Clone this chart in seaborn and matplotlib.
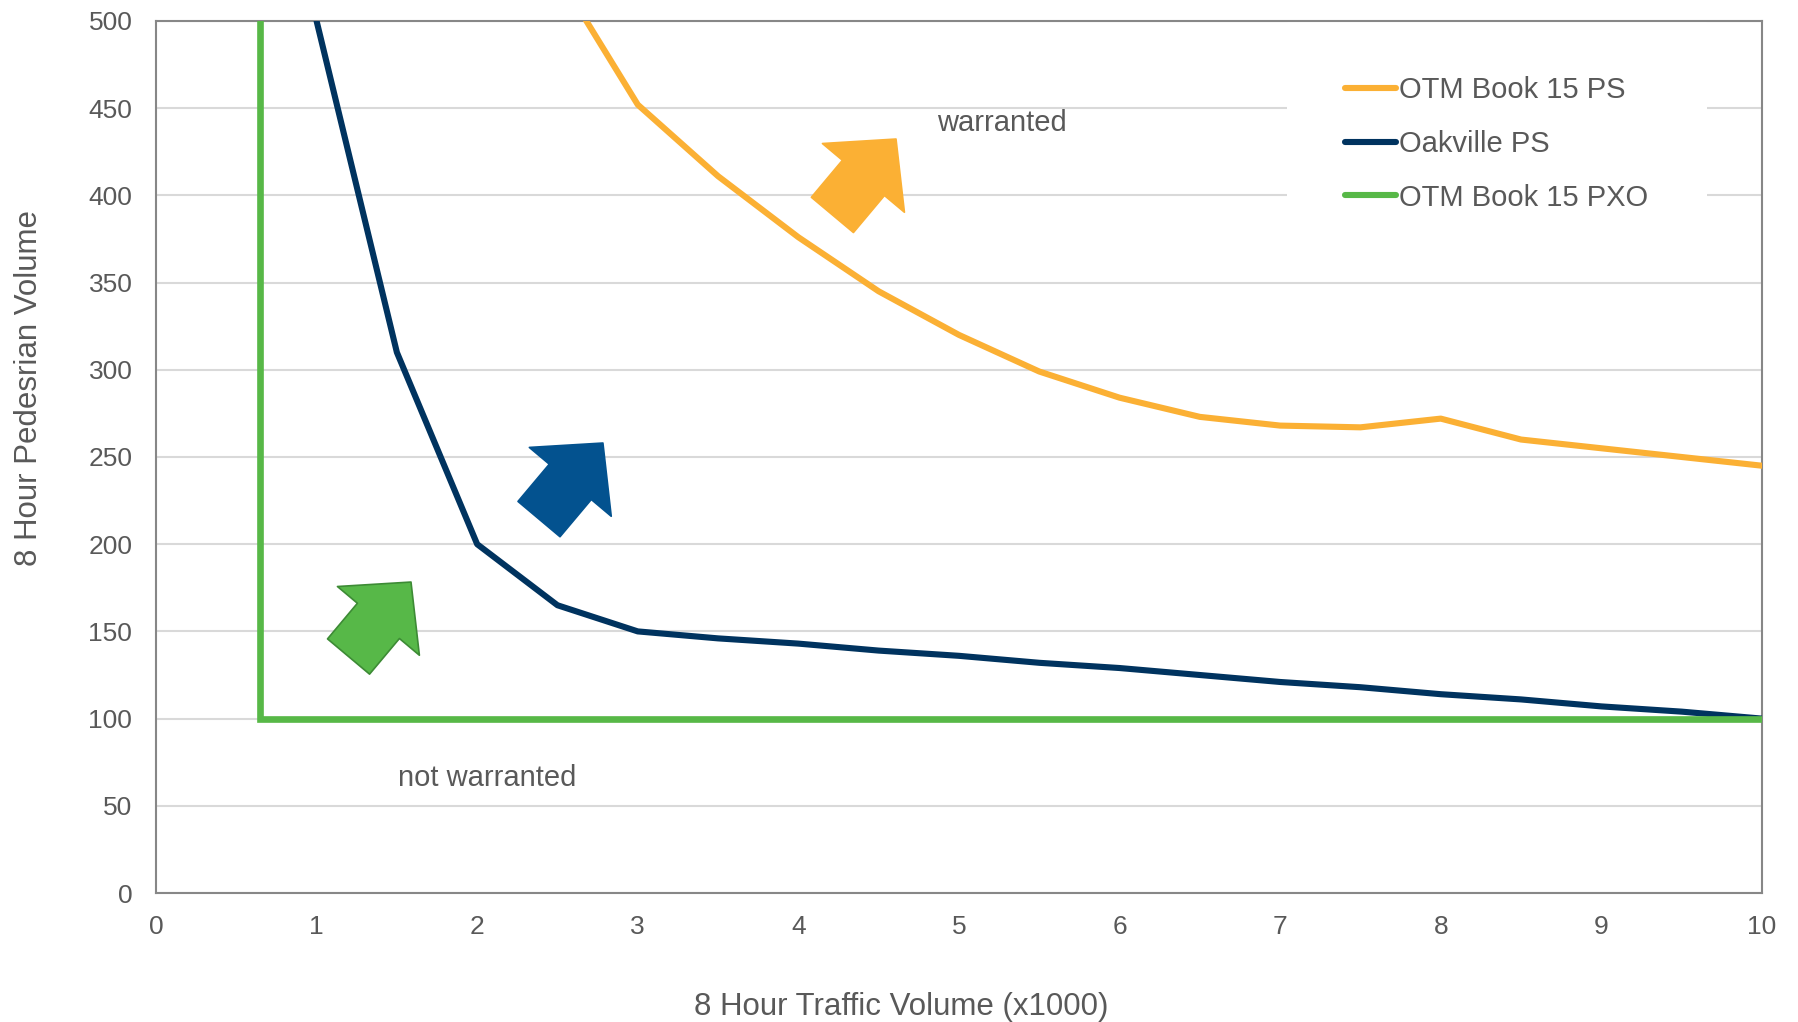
import matplotlib
matplotlib.use("Agg")
import matplotlib.pyplot as plt
import seaborn as sns
import pandas as pd
from matplotlib.patches import ArrowStyle

# ---- data ----
ps_x = [2.5, 3, 3.5, 4, 4.5, 5, 5.5, 6, 6.5, 7, 7.5, 8, 8.5, 9, 9.5, 10]
ps_y = [527, 452, 411, 376, 345, 320, 299, 284, 273, 268, 267, 272, 260, 255, 250, 245]

oak_x = [1, 1.5, 2, 2.5, 3, 3.5, 4, 4.5, 5, 5.5, 6, 6.5, 7, 7.5, 8, 8.5, 9, 9.5, 10]
oak_y = [500, 310, 200, 165, 150, 146, 143, 139, 136, 132, 129, 125, 121, 118, 114, 111, 107, 104, 100]

pxo_x = [0.645, 0.645, 10]
pxo_y = [500, 100, 100]

series_names = ["OTM Book 15 PS", "Oakville PS", "OTM Book 15 PXO"]
x_ticks = list(range(0, 11))
y_ticks = list(range(0, 501, 50))

ann_labels = ["warranted", "not warranted"]

# ---- style ----
sns.set_theme(style="white")
plt.rcParams["font.family"] = ["Liberation Sans", "DejaVu Sans"]
TXT = "#595959"
C_ORANGE = "#FBB034"
C_BLUE = "#00335F"
C_GREEN = "#57B847"

fig = plt.figure(figsize=(17.99, 10.22), dpi=100)
ax = fig.add_axes([0.0867, 0.1262, 0.9794 - 0.0867, 0.9795 - 0.1262])

df_ps = pd.DataFrame({"x": ps_x, "y": ps_y})
df_oak = pd.DataFrame({"x": oak_x, "y": oak_y})
df_pxo = pd.DataFrame({"x": pxo_x, "y": pxo_y})

sns.lineplot(data=df_ps, x="x", y="y", ax=ax, color=C_ORANGE, lw=4.4,
             label=series_names[0], estimator=None, sort=False, zorder=3)
sns.lineplot(data=df_oak, x="x", y="y", ax=ax, color=C_BLUE, lw=4.4,
             label=series_names[1], estimator=None, sort=False, zorder=3)
sns.lineplot(data=df_pxo, x="x", y="y", ax=ax, color=C_GREEN, lw=4.8,
             label=series_names[2], estimator=None, sort=False, zorder=4)
ax.lines[2].set_solid_joinstyle("miter")

ax.set_xlim(0, 10)
ax.set_ylim(0, 500)
ax.set_xticks(x_ticks)
ax.set_yticks(y_ticks)
ax.tick_params(axis="both", length=0, labelsize=19, labelcolor=TXT)
ax.tick_params(axis="y", pad=17)
ax.tick_params(axis="x", pad=16)
ax.yaxis.grid(True, color="#D9D9D9", lw=1.5)
ax.xaxis.grid(False)
ax.set_axisbelow(True)
for s in ax.spines.values():
    s.set_color("#878787")
    s.set_linewidth(1.5)

ax.set_xlabel("8 Hour Traffic Volume (x1000)", fontsize=22.5, color=TXT)
ax.set_ylabel("8 Hour Pedesrian Volume", fontsize=22.5, color=TXT)
ax.xaxis.set_label_coords(0.464, -0.113)
ax.yaxis.set_label_coords(-0.070, 0.579)

# fat arrows
style = ArrowStyle.Simple(head_length=36.5, head_width=77, tail_width=39.5)
arrows = [((2.385, 214.4), (2.783, 258.0), "#03528F", "#03528F"),
          ((4.212, 388.8), (4.608, 432.3), C_ORANGE, C_ORANGE),
          ((1.199, 135.6), (1.588, 178.3), "#57B848", "#3D8B35")]
for tail, tip, fc, ec in arrows:
    ax.annotate("", xy=tip, xytext=tail, xycoords="data", textcoords="data",
                arrowprops=dict(arrowstyle=style, fc=fc, ec=ec, lw=1.2,
                                shrinkA=0, shrinkB=0, mutation_scale=1),
                zorder=5)

ax.text(5.27, 441.5, ann_labels[0], fontsize=21, color=TXT, ha="center", va="center")
ax.text(2.064, 66, ann_labels[1], fontsize=21, color=TXT, ha="center", va="center")

leg = ax.legend(loc="center left", bbox_to_anchor=(0.704, 0.859), frameon=True,
                fontsize=21, handlelength=1.75, handletextpad=0.12,
                labelspacing=0.88, borderpad=2.0, borderaxespad=0)
leg.set_zorder(2.4)
leg.get_frame().set_facecolor("white")
leg.get_frame().set_edgecolor("none")
leg.get_frame().set_alpha(1)
for t in leg.get_texts():
    t.set_color(TXT)
for h in leg.get_lines():
    h.set_solid_capstyle("round")
    h.set_linewidth(4.4)

fig.savefig("out.png", dpi=100)
